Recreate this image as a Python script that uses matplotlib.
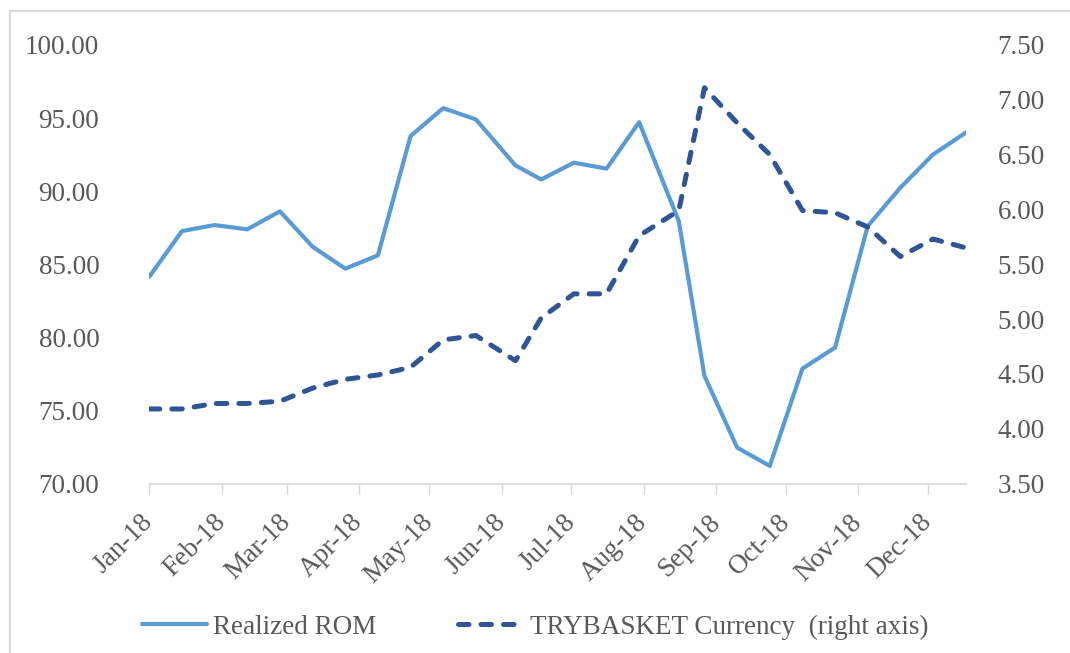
import matplotlib

matplotlib.use("Agg")
import matplotlib.dates as mdates
import matplotlib.pyplot as plt
import numpy as np
from matplotlib.lines import Line2D
from matplotlib.patches import Rectangle

# Observation dates (roughly every two weeks through 2018)
dates = np.array([
    "2018-01-01", "2018-01-15", "2018-01-29", "2018-02-12", "2018-02-26",
    "2018-03-12", "2018-03-26", "2018-04-09", "2018-04-23", "2018-05-07",
    "2018-05-21", "2018-06-07", "2018-06-18", "2018-07-02", "2018-07-16",
    "2018-07-30", "2018-08-16", "2018-08-27", "2018-09-10", "2018-09-24",
    "2018-10-08", "2018-10-22", "2018-11-05", "2018-11-19", "2018-12-03",
    "2018-12-17",
], dtype="datetime64[D]")

realized_rom = [
    84.15, 87.27, 87.68, 87.39, 88.62, 86.20, 84.70, 85.61, 93.77, 95.68,
    94.91, 91.76, 90.80, 91.95, 91.54, 94.72, 87.95, 77.36, 72.46, 71.20,
    77.86, 79.30, 87.61, 90.24, 92.51, 94.00,
]

trybasket = [
    4.18, 4.18, 4.23, 4.23, 4.25, 4.37, 4.45, 4.49, 4.56, 4.81,
    4.85, 4.62, 5.01, 5.23, 5.23, 5.76, 5.99, 7.11, 6.79, 6.50,
    5.99, 5.97, 5.84, 5.57, 5.73, 5.65,
]

month_ticks = np.arange("2018-01", "2019-01", dtype="datetime64[M]").astype("datetime64[D]")
left_ticks = np.arange(70, 100.1, 5)
right_ticks = np.arange(3.5, 7.51, 0.5)

ROM_COLOR = "#5B9BD5"
TRY_COLOR = "#2F5597"
TEXT_COLOR = "#595959"
AXIS_COLOR = "#D9D9D9"
FONT = "Liberation Serif"
FS = 19.5

plt.rcParams["font.family"] = [FONT, "DejaVu Serif"]

W, H = 1070, 653
fig = plt.figure(figsize=(W / 100, H / 100), dpi=100)
left, right, top, bottom = 149.3, 965.7, 45.0, 483.5
ax = fig.add_axes([left / W, 1 - bottom / H, (right - left) / W, (bottom - top) / H])
ax2 = ax.twinx()

dash = (2.1, 2.4)
ax.plot(dates, realized_rom, color=ROM_COLOR, lw=3.0, solid_capstyle="round",
        solid_joinstyle="round", label="Realized ROM")
ax2.plot(dates, trybasket, color=TRY_COLOR, lw=3.6, linestyle=(0, dash),
         dash_capstyle="round", dash_joinstyle="round",
         label="TRYBASKET Currency  (right axis)")

ax.set_xlim(dates[0], dates[-1])
ax.set_ylim(70, 100)
ax2.set_ylim(3.5, 7.5)

ax.set_xticks(month_ticks)
ax.xaxis.set_major_formatter(mdates.DateFormatter("%b-%y"))
ax.set_yticks(left_ticks)
ax.set_yticklabels([f"{v:.2f}" for v in left_ticks])
ax2.set_yticks(right_ticks)
ax2.set_yticklabels([f"{v:.2f}" for v in right_ticks])

ax.tick_params(axis="x", direction="out", length=7.2, width=1.0, color=AXIS_COLOR,
               labelsize=FS, labelcolor=TEXT_COLOR, pad=18)
for lab in ax.get_xticklabels():
    lab.set_rotation(45)
    lab.set_ha("right")
    lab.set_va("center")
    lab.set_rotation_mode("anchor")
ax.tick_params(axis="y", length=0, labelsize=FS, labelcolor=TEXT_COLOR, pad=36)
ax2.tick_params(axis="y", length=0, labelsize=FS, labelcolor=TEXT_COLOR, pad=23)

for name in ["top", "left", "right"]:
    ax.spines[name].set_visible(False)
for name in ["top", "left", "right", "bottom"]:
    ax2.spines[name].set_visible(False)
ax.spines["bottom"].set_color(AXIS_COLOR)
ax.spines["bottom"].set_linewidth(1.2)

handles = [
    Line2D([], [], color=ROM_COLOR, lw=3.0, solid_capstyle="round"),
    Line2D([], [], color=TRY_COLOR, lw=3.6, linestyle=(0, dash), dash_capstyle="round"),
]
fig.legend(handles, ["Realized ROM", "TRYBASKET Currency  (right axis)"],
           loc="center", bbox_to_anchor=(0.5, 1 - 627 / H), ncol=2, frameon=False,
           handlelength=2.4, handletextpad=0.25, columnspacing=3.0,
           prop={"family": FONT, "size": FS}, labelcolor=TEXT_COLOR)

# light chart-area border (only top and left are inside the crop)
fig.patches.append(Rectangle((10 / W, -0.05), 1.2, 1 - 11 / H + 0.05,
                             transform=fig.transFigure, fill=False,
                             edgecolor=AXIS_COLOR, lw=1.5))

fig.savefig("out.png", dpi=100)
